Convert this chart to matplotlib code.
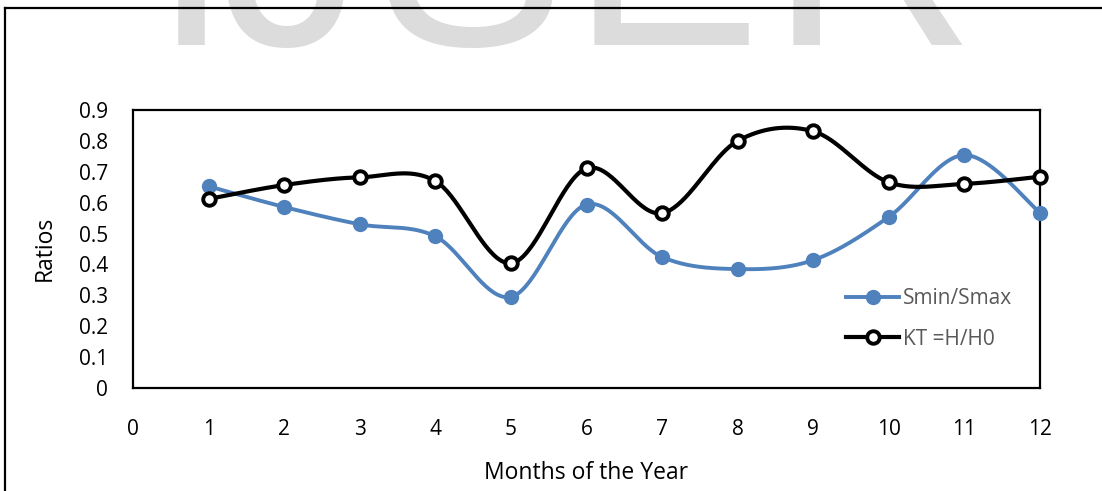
import numpy as np
import matplotlib.pyplot as plt
from matplotlib.lines import Line2D

# chart values
months = [1, 2, 3, 4, 5, 6, 7, 8, 9, 10, 11, 12]
smin_smax = [0.653, 0.586, 0.530, 0.491, 0.295, 0.594, 0.424, 0.385, 0.414, 0.554, 0.754, 0.568]
kt_ratio = [0.612, 0.657, 0.682, 0.670, 0.404, 0.711, 0.566, 0.800, 0.831, 0.666, 0.661, 0.684]
x_ticks = list(range(0, 13))
y_ticks = [0, 0.1, 0.2, 0.3, 0.4, 0.5, 0.6, 0.7, 0.8, 0.9]
watermark = ["I", "J", "S", "E", "R"]


def excel_smooth(x, y, n=40):
    # Bezier smoothing like Excel's "smoothed line" (control pts = +/- (P[i+1]-P[i-1])/6)
    p = np.column_stack([x, y]).astype(float)
    out = []
    for i in range(len(p) - 1):
        p0 = p[i]
        p3 = p[i + 1]
        prev = p[i - 1] if i > 0 else p[i]
        nxt = p[i + 2] if i + 2 < len(p) else p[i + 1]
        c1 = p0 + (p3 - prev) / 6.0
        c2 = p3 - (nxt - p0) / 6.0
        t = np.linspace(0, 1, n)[:, None]
        seg = (1 - t) ** 3 * p0 + 3 * (1 - t) ** 2 * t * c1 + 3 * (1 - t) * t ** 2 * c2 + t ** 3 * p3
        out.append(seg if i == 0 else seg[1:])
    seg = np.vstack(out)
    return seg[:, 0], seg[:, 1]


plt.rcParams['font.family'] = ['Open Sans', 'DejaVu Sans']

fig = plt.figure(figsize=(11.02, 4.91), dpi=100)
W, H = 1102.0, 491.0

# grey watermark letters at the top (cut by the image edge)
for letter, xc in zip(watermark, [191, 294, 470, 666, 872]):
    fig.text(xc / W, 1 - 45 / H, letter, fontsize=205, family='Liberation Sans',
             color='#dcdcdc', ha='center', va='baseline', zorder=0)

# outer chart border
fig.add_artist(Line2D([5 / W, 5 / W], [1 - 8 / H, -0.1], transform=fig.transFigure,
                      color='black', lw=1.6))
fig.add_artist(Line2D([5 / W, 1.1], [1 - 8 / H, 1 - 8 / H], transform=fig.transFigure,
                      color='black', lw=1.6))

ax = fig.add_axes([133 / W, 1 - 388 / H, (1040 - 133) / W, (388 - 110) / H])
ax.patch.set_alpha(0)

sx, sy = excel_smooth(months, smin_smax)
kx, ky = excel_smooth(months, kt_ratio)

ax.plot(sx, sy, color='#4f81bd', lw=2.8, solid_capstyle='round', clip_on=False, zorder=3)
ax.plot(months, smin_smax, ls='none', marker='o', ms=10, color='#4f81bd', clip_on=False, zorder=4)
ax.plot(kx, ky, color='black', lw=3.0, solid_capstyle='round', clip_on=False, zorder=5)
ax.plot(months, kt_ratio, ls='none', marker='o', ms=9, mfc='white', mec='black', mew=2.8,
        clip_on=False, zorder=6)

ax.set_xlim(0, 12)
ax.set_ylim(0, 0.9)
ax.set_xticks(x_ticks)
ax.set_xticklabels([str(v) for v in x_ticks])
ax.set_yticks(y_ticks)
ax.set_yticklabels(['0'] + ['%.1f' % v for v in y_ticks[1:]])
ax.tick_params(axis='both', length=0, labelsize=15, colors='black')
ax.tick_params(axis='y', pad=18)
ax.tick_params(axis='x', pad=22)
for s in ax.spines.values():
    s.set_linewidth(1.6)
    s.set_color('black')

fig.text(45 / W, 1 - 248 / H, 'Ratios', rotation=90, ha='center', va='center', fontsize=16.5)
fig.text(586 / W, 1 - 473 / H, 'Months of the Year', ha='center', va='center', fontsize=16.5)

# legend (Excel-like, no frame)
h1 = Line2D([], [], color='#4f81bd', lw=2.8, marker='o', ms=10)
h2 = Line2D([], [], color='black', lw=3.0, marker='o', ms=9, mfc='white', mec='black', mew=2.8)
leg = ax.legend([h1, h2], ['Smin/Smax', 'KT =H/H0'], loc='upper left',
                bbox_to_anchor=((846 - 133) / (1040 - 133), (388 - 288) / (388 - 110)),
                frameon=False, fontsize=15, handlelength=2.55, handletextpad=0.2,
                labelspacing=0.95, borderaxespad=0, borderpad=0)
for t in leg.get_texts():
    t.set_color('#595959')

fig.savefig('out.png', dpi=100)
